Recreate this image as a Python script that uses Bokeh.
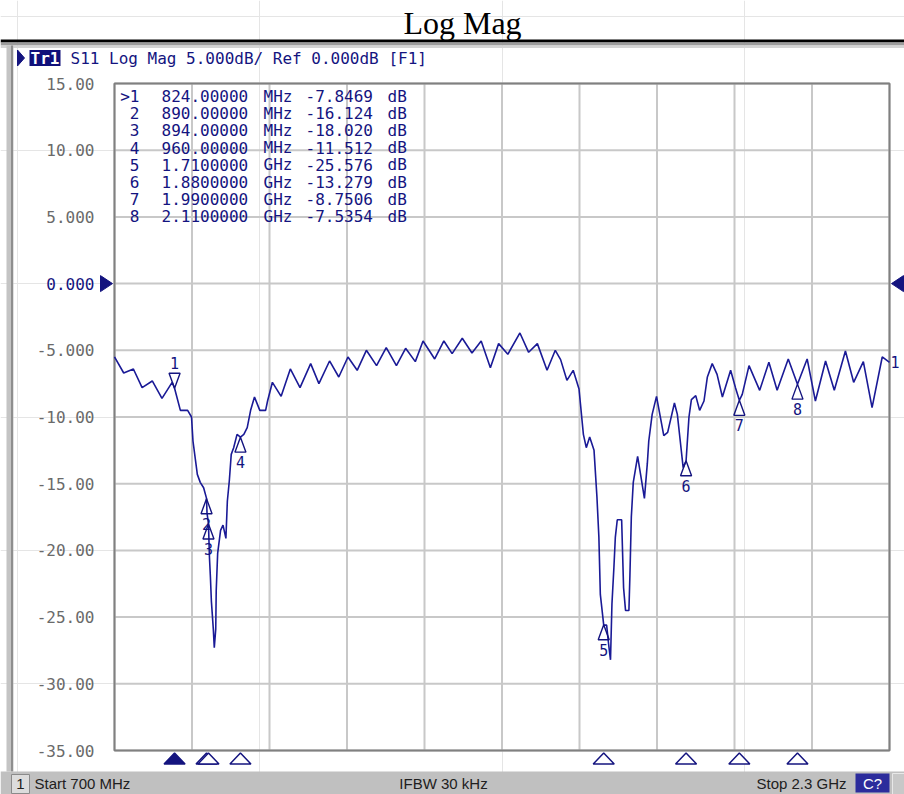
import numpy as np
from bokeh.plotting import figure
from bokeh.models import Range1d
from bokeh.core.properties import value
from bokeh.embed import file_html
from bokeh.resources import INLINE

# ---------------- data ----------------
freq_mhz = [700, 719, 739, 757, 778, 798, 819, 824, 836, 851, 859, 862, 871, 877, 884,
            890, 891, 894, 896, 898, 900, 904, 906, 909, 910, 913, 919, 924, 930, 933,
            937, 941, 946, 953, 960, 967, 974, 981, 989, 1000, 1012, 1016, 1026, 1044,
            1063, 1083, 1105, 1122, 1144, 1163, 1182, 1201, 1220, 1241, 1261, 1282, 1301,
            1321, 1337, 1361, 1380, 1397, 1418, 1438, 1457, 1476, 1493, 1512, 1537, 1555,
            1573, 1593, 1610, 1621, 1634, 1647, 1659, 1668, 1674, 1681, 1690, 1696, 1700,
            1703, 1710, 1716, 1720, 1724, 1727, 1731, 1734, 1738, 1747, 1751, 1755, 1762,
            1764, 1767, 1771, 1780, 1787, 1794, 1800, 1803, 1810, 1819, 1834, 1842, 1856,
            1862, 1868, 1874, 1880, 1886, 1891, 1900, 1908, 1917, 1924, 1934, 1944, 1955,
            1972, 1982, 1990, 1996, 2010, 2032, 2051, 2068, 2091, 2110, 2130, 2147, 2168,
            2186, 2209, 2226, 2246, 2264, 2285, 2300]
s11_db = [-5.5, -6.7, -6.4, -7.8, -7.3, -8.6, -7.4, -7.85, -9.5, -9.5, -10.0, -11.8, -14.3, -14.9, -15.3,
          -16.1, -17.2, -18.0, -20.5, -22.0, -23.8, -25.9, -27.3, -25.9, -23.0, -20.2, -18.5, -18.1, -19.1, -16.3,
          -14.8, -12.8, -12.3, -11.3, -11.5, -11.3, -10.8, -9.5, -8.5, -9.5, -9.5, -8.8, -7.4, -8.45,
          -6.4, -7.8, -6.0, -7.5, -5.8, -7.0, -5.5, -6.5, -5.0, -6.15, -4.8, -6.15, -4.85,
          -5.85, -4.3, -5.65, -4.3, -5.25, -4.1, -5.2, -4.3, -6.3, -4.5, -5.3, -3.7, -5.15,
          -4.5, -6.5, -5.0, -5.7, -7.25, -6.5, -7.9, -11.3, -12.3, -11.5, -12.5, -16.0, -19.0,
          -23.3, -25.6, -25.6, -27.0, -28.2, -24.0, -21.3, -19.0, -17.7, -17.7, -22.8, -24.5, -24.5,
          -22.0, -17.5, -14.9, -12.95, -14.5, -16.1, -13.5, -11.8, -9.8, -8.45, -11.4, -11.15, -8.95,
          -9.8, -11.8, -13.8, -13.3, -10.0, -8.7, -8.4, -9.5, -8.8, -7.0, -6.0, -6.8, -8.5,
          -6.5, -7.8, -8.75, -8.3, -6.15, -8.0, -5.9, -8.0, -5.65, -7.55, -5.65, -8.8, -5.8,
          -8.0, -5.05, -7.4, -5.85, -9.3, -5.5, -5.9]

marker_ids = ["1", "2", "3", "4", "5", "6", "7", "8"]
marker_freq_mhz = [824, 890, 894, 960, 1710, 1880, 1990, 2110]
marker_db = [-7.8469, -16.124, -18.020, -11.512, -25.576, -13.279, -8.7506, -7.5354]
marker_freq_text = ["824.00000", "890.00000", "894.00000", "960.00000",
                    "1.7100000", "1.8800000", "1.9900000", "2.1100000"]
marker_unit_text = ["MHz", "MHz", "MHz", "MHz", "GHz", "GHz", "GHz", "GHz"]
marker_db_text = ["-7.8469", "-16.124", "-18.020", "-11.512", "-25.576", "-13.279", "-8.7506", "-7.5354"]
active_marker = "1"

y_ticks = [15, 10, 5, -5, -10, -15, -20, -25, -30, -35]
y_tick_labels = ["15.00", "10.00", "5.000", "-5.000", "-10.00", "-15.00", "-20.00", "-25.00", "-30.00", "-35.00"]
ref_level_db = 0
ref_level_label = "0.000"
start_mhz, stop_mhz = 700, 2300
bottom_db, top_db = -35, 15
divisions = 10

title_text = "Log Mag"
header_text = "S11 Log Mag 5.000dB/ Ref 0.000dB [F1]"
trace_name = "Tr1"
status_channel = "1"
status_left = "Start 700 MHz"
status_mid = "IFBW 30 kHz"
status_right = "Stop 2.3 GHz"
status_flag = "C?"

# ---------------- layout geometry (pixels) ----------------
W, H = 904, 794
FL, FR, FT, FB = 114, 889, 83, 750   # edges of the graticule

MPX = (stop_mhz - start_mhz) / (FR - FL)   # MHz per pixel
DPX = (top_db - bottom_db) / (FB - FT)     # dB per pixel


def X(px):
    return start_mhz + (px - FL) * MPX


def Y(py):
    return top_db - (py - FT) * DPX


NAVY = "#14147f"
TRACE = "#1a1a96"
GRID = "#c8c8c8"
MONO = "DejaVu Sans Mono"
SANS = "Liberation Sans"

p = figure(width=W, height=H, output_backend="svg", toolbar_location=None,
           x_range=Range1d(X(0), X(W)), y_range=Range1d(Y(H), Y(0)),
           x_axis_location=None, y_axis_location=None, min_border=0)
p.background_fill_color = "white"
p.border_fill_color = "white"
p.outline_line_color = None


def quads(boxes, fill, line=None, lw=1):
    p.quad(left=[X(b[0]) for b in boxes], right=[X(b[1]) for b in boxes],
           top=[Y(b[2]) for b in boxes], bottom=[Y(b[3]) for b in boxes],
           fill_color=fill, line_color=line, line_width=lw)


def label(px, py, text, size, color, font=MONO, align="left", baseline="middle", style="normal"):
    p.text(x=[X(px)], y=[Y(py)], text=[text], text_font=value(font), text_font_size=value(size),
           text_color=color, text_align=align, text_baseline=baseline, text_font_style=style)


# ---- window chrome ----
quads([(0, 904, 39, 42)], "black")
quads([(0, 904, 42, 45)], "#9c9c9c")
quads([(0, 904, 45, 47.5)], "#d4d4d4")
quads([(6, 13, 45, 771)], "#c4c4c4")
quads([(10.5, 12.5, 45, 771)], "#8e8e8e")

# ---- graticule ----
vx = list(np.linspace(start_mhz, stop_mhz, divisions + 1))
p.segment(x0=vx, y0=[bottom_db] * len(vx), x1=vx, y1=[top_db] * len(vx),
          line_color=GRID, line_width=2)
hy = y_ticks + [ref_level_db]
p.segment(x0=[start_mhz] * len(hy), y0=hy, x1=[stop_mhz] * len(hy), y1=hy,
          line_color=GRID, line_width=2)
p.quad(left=[start_mhz], right=[stop_mhz], top=[top_db], bottom=[bottom_db],
       fill_color=None, line_color="#808080", line_width=2)

# ---- y tick labels ----
p.text(x=[X(94)] * len(y_ticks), y=y_ticks, text=y_tick_labels, text_font=value(MONO),
       text_font_size=value("16px"), text_color="#6a6a6a", text_align="right", text_baseline="middle")
p.text(x=[X(94)], y=[ref_level_db], text=[ref_level_label], text_font=value(MONO),
       text_font_size=value("16px"), text_color=NAVY, text_align="right", text_baseline="middle")
arrow_h = 8 * DPX
p.patches(xs=[[X(100), X(112), X(100)], [X(903), X(891), X(903)]],
          ys=[[ref_level_db + arrow_h, ref_level_db, ref_level_db - arrow_h]] * 2,
          fill_color=NAVY, line_color=NAVY)

# ---- trace ----
p.line(freq_mhz, s11_db, line_color=TRACE, line_width=1.6)
p.text(x=[X(890)], y=[s11_db[-1]], text=["1"], text_font=value(MONO), text_font_size=value("15px"),
       text_color=NAVY, text_align="left", text_baseline="middle")

# ---- markers on the trace ----
tri_h, tri_w = 15, 5.5
xs_m, ys_m, lx, ly = [], [], [], []
for mid, f, v in zip(marker_ids, marker_freq_mhz, marker_db):
    if mid == active_marker:
        base = v + tri_h * DPX
        ly.append(v + 25 * DPX)
    else:
        base = v - tri_h * DPX
        ly.append(v - 25 * DPX)
    xs_m.append([f - tri_w * MPX, f + tri_w * MPX, f])
    ys_m.append([base, base, v])
    lx.append(f)
p.patches(xs_m, ys_m, fill_color=None, line_color=NAVY, line_width=1.4)
p.text(x=lx, y=ly, text=marker_ids, text_font=value(MONO), text_font_size=value("15px"),
       text_color=NAVY, text_align="center", text_baseline="middle")

# ---- marker stimulus triangles under the graticule ----
bxs, bys, bfill = [], [], []
for mid, f in zip(marker_ids, marker_freq_mhz):
    bxs.append([f - 10.5 * MPX, f + 10.5 * MPX, f])
    bys.append([Y(763.5), Y(763.5), Y(752.5)])
    bfill.append(NAVY if mid == active_marker else "white")
p.patches(bxs, bys, fill_color=bfill, line_color=NAVY, line_width=1.5)

# ---- marker table ----
rows_y = [Y(95.5 + 17.2 * k) for k in range(len(marker_ids))]
id_text = [(">" + m) if m == active_marker else m for m in marker_ids]
tkw = dict(text_font=value(MONO), text_font_size=value("16px"), text_color=NAVY, text_baseline="middle")
n = len(marker_ids)
p.text(x=[X(139)] * n, y=rows_y, text=id_text, text_align="right", **tkw)
p.text(x=[X(161)] * n, y=rows_y, text=marker_freq_text, text_align="left", **tkw)
p.text(x=[X(263)] * n, y=rows_y, text=marker_unit_text, text_align="left", **tkw)
p.text(x=[X(305)] * n, y=rows_y, text=marker_db_text, text_align="left", **tkw)
p.text(x=[X(387)] * n, y=rows_y, text=["dB"] * n, text_align="left", **tkw)

# ---- header ----
p.patches(xs=[[X(17), X(24), X(17)]], ys=[[Y(49.5), Y(57.5), Y(65.5)]], fill_color=NAVY, line_color=NAVY)
quads([(29, 60, 49.5, 65.5)], "#10107a")
label(44.5, 57.5, trace_name, "16px", "white", align="center", style="bold")
label(70, 57.5, header_text, "16px", NAVY)

# ---- title ----
label(462, 22, title_text, "32px", "black", font="Liberation Serif", align="center", baseline="middle")

# ---- status bar ----
quads([(0, 904, 771, 794)], "#c0c0c0")
quads([(11, 29, 774, 793)], "#dcdcdc", "#8a8a8a", 1)
label(20, 783, status_channel, "15px", "#202020", font=SANS, align="center")
label(34, 783, status_left, "15px", "#202020", font=SANS)
label(443, 783, status_mid, "15px", "#202020", font=SANS, align="center")
label(846, 783, status_right, "15px", "#202020", font=SANS, align="right")
quads([(855, 889, 773, 792)], "#2c2c9c")
label(872, 783, status_flag, "15px", "white", font=SANS, align="center")
quads([(892, 904, 773, 794)], "#c8c8c8", "#e8e8e8", 1)

open("out.html", "w").write(file_html(p, INLINE))
